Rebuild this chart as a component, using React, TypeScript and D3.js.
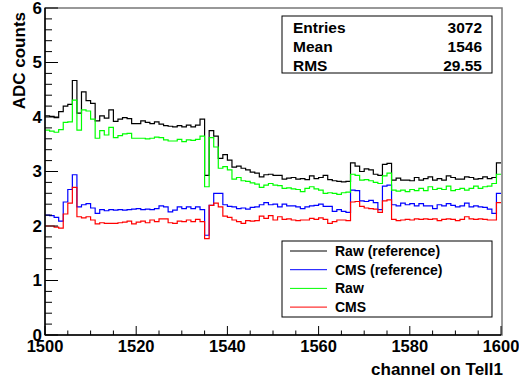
import React from "react";
import * as d3 from "d3";

// one value per channel, 1500..1599
const channels = d3.range(1500, 1600);

const rawRef = [
  4.02, 4.01, 3.99, 4.1, 4.2, 4.23, 4.67, 4.07, 4.46, 4.3,
  4.25, 3.93, 4.02, 3.98, 4.13, 3.92, 3.96, 3.99, 3.97, 3.88,
  3.88, 3.93, 3.9, 3.88, 3.91, 3.87, 3.84, 3.83, 3.82, 3.84,
  3.82, 3.85, 3.82, 3.85, 3.96, 2.93, 3.75, 3.65, 3.24, 3.31,
  3.21, 3.08, 3.1, 3.06, 3.03, 2.99, 2.97, 2.9, 2.94, 2.95,
  2.93, 2.93, 2.86, 2.88, 2.89, 2.86, 2.87, 2.85, 2.92, 2.87,
  2.89, 2.93, 2.85, 2.83, 2.82, 2.81, 2.82, 3.16, 3.1, 3.0,
  3.05, 3.03, 2.95, 2.93, 3.13, 3.15, 2.84, 2.88, 2.84, 2.84,
  2.83, 2.89, 2.84, 2.87, 2.9, 2.84, 2.87, 2.84, 2.92, 2.89,
  2.86, 2.86, 2.9, 2.89, 2.86, 2.87, 2.9, 2.87, 2.89, 3.16,
];

const cmsRef = [
  2.2, 2.19, 2.16, 2.09, 2.44, 2.67, 2.94, 2.35, 2.39, 2.41,
  2.33, 2.23, 2.3, 2.28, 2.3, 2.29, 2.3, 2.29, 2.3, 2.31,
  2.32, 2.3, 2.31, 2.3, 2.32, 2.37, 2.35, 2.26, 2.29, 2.35,
  2.32, 2.35, 2.32, 2.35, 2.3, 1.83, 2.38, 2.6, 2.6, 2.39,
  2.36, 2.35, 2.32, 2.33, 2.31, 2.34, 2.35, 2.39, 2.43, 2.39,
  2.4, 2.35, 2.4, 2.37, 2.37, 2.35, 2.32, 2.35, 2.37, 2.38,
  2.4, 2.36, 2.36, 2.27, 2.3, 2.27, 2.25, 2.66, 2.65, 2.46,
  2.45, 2.47, 2.43, 2.3, 2.73, 2.75, 2.39, 2.37, 2.42, 2.39,
  2.41, 2.37, 2.41, 2.37, 2.37, 2.32, 2.39, 2.37, 2.41, 2.38,
  2.35, 2.37, 2.42, 2.35, 2.37, 2.35, 2.34, 2.31, 2.23, 2.6,
];

const raw = [
  3.76, 3.74, 3.72, 3.77, 3.9, 3.91, 4.31, 3.76, 4.13, 4.11,
  3.96, 3.61, 3.75, 3.67, 3.81, 3.62, 3.66, 3.69, 3.7, 3.61,
  3.61, 3.61, 3.6, 3.61, 3.63, 3.62, 3.58, 3.56, 3.56, 3.59,
  3.55, 3.58, 3.57, 3.59, 3.65, 2.72, 3.62, 3.45, 3.06, 3.09,
  3.03, 2.86, 2.89, 2.83, 2.82, 2.79, 2.77, 2.71, 2.75, 2.78,
  2.75, 2.74, 2.69, 2.7, 2.68, 2.67, 2.63, 2.69, 2.72, 2.68,
  2.66, 2.6, 2.61, 2.6, 2.58, 2.61, 2.62, 2.95, 2.93, 2.84,
  2.85, 2.83, 2.8, 2.78, 2.92, 2.97, 2.66, 2.64, 2.66, 2.63,
  2.67, 2.65, 2.69, 2.65, 2.72, 2.67, 2.69, 2.67, 2.73, 2.65,
  2.67, 2.69, 2.66, 2.69, 2.73, 2.69, 2.72, 2.73, 2.78, 2.95,
];

const cms = [
  2.0, 2.0, 1.98, 1.96, 2.22, 2.42, 2.71, 2.17, 2.15, 2.17,
  2.11, 2.04, 2.06, 2.05, 2.05, 2.05, 2.06, 2.07, 2.09, 2.04,
  2.07, 2.09, 2.06, 2.11, 2.08, 2.13, 2.13, 2.06, 2.05, 2.09,
  2.08, 2.11, 2.08, 2.12, 2.08, 1.77, 2.38, 2.42, 2.35, 2.18,
  2.16, 2.11, 2.08, 2.05, 2.1, 2.09, 2.1, 2.18, 2.14, 2.19,
  2.11, 2.17, 2.12, 2.13, 2.11, 2.1, 2.11, 2.11, 2.14, 2.12,
  2.15, 2.12, 2.05, 2.08, 2.11, 2.11, 2.1, 2.44, 2.45, 2.36,
  2.33, 2.32, 2.31, 2.25, 2.46, 2.48, 2.12, 2.1, 2.11, 2.12,
  2.11, 2.13, 2.12, 2.13, 2.12, 2.13, 2.1, 2.12, 2.13, 2.12,
  2.1, 2.12, 2.17, 2.13, 2.12, 2.13, 2.12, 2.11, 2.11, 2.43,
];

const seriesLabels = ["Raw (reference)", "CMS (reference)", "Raw", "CMS"];
const seriesColors = ["#000000", "#0000ff", "#00ff00", "#ff0000"];
const seriesValues = [rawRef, cmsRef, raw, cms];

const statNames = ["Entries", "Mean", "RMS"];
const statValues = ["3072", "1546", "29.55"];

const xTickLabels = [1500, 1520, 1540, 1560, 1580, 1600];
const yTickLabels = [0, 1, 2, 3, 4, 5, 6];

const W = 519;
const H = 378;
const FONT = "'Liberation Sans', Arial, Helvetica, sans-serif";

export default function App() {
  const margin = { left: 45, right: 18, top: 8, bottom: 43 };
  const x = d3.scaleLinear().domain([1500, 1600]).range([margin.left, W - margin.right]);
  const y = d3.scaleLinear().domain([0, 6]).range([H - margin.bottom, margin.top]);
  const [x0, x1] = x.range();
  const [y0, y1] = y.range();

  const line = d3
    .line<[number, number]>()
    .x((d) => x(d[0]))
    .y((d) => y(d[1]))
    .curve(d3.curveStepAfter);

  const paths = seriesValues.map((vals) => {
    const pts: [number, number][] = channels.map((c, i) => [c, vals[i]]);
    pts.push([1600, vals[vals.length - 1]]);
    return line(pts) ?? "";
  });

  const yMinor = d3.range(0, 31).map((i) => i * 0.2);
  const xMinor = d3.range(1500, 1601, 5);

  return (
    <svg
      width={W}
      height={H}
      style={{ position: "absolute", left: 0, top: 0, background: "#fff" }}
      fontFamily={FONT}
      fontWeight="bold"
    >
      <rect x={0} y={0} width={W} height={H} fill="#fff" />

      {/* frame */}
      <rect x={x0} y={y1} width={x1 - x0 + 1} height={y0 - y1} fill="none" stroke="#777" strokeWidth={1.5} />

      {/* histograms */}
      {paths.map((d, i) => (
        <path key={i} d={d} fill="none" stroke={seriesColors[i]} strokeWidth={1.2} />
      ))}

      {/* y axis */}
      <line x1={x0} x2={x0} y1={y0} y2={y1} stroke="#000" strokeWidth={1.5} />
      {yMinor.map((v, i) => (
        <line
          key={i}
          x1={x0}
          x2={x0 + (i % 5 === 0 ? 13 : 7)}
          y1={y(v)}
          y2={y(v)}
          stroke="#000"
          strokeWidth={1}
        />
      ))}
      {yTickLabels.map((v) => (
        <text key={v} x={x0 - 3} y={y(v)} dy="0.35em" textAnchor="end" fontSize={17}>
          {v}
        </text>
      ))}

      {/* x axis */}
      <line x1={x0} x2={x1} y1={y0} y2={y0} stroke="#000" strokeWidth={1.5} />
      {xMinor.map((c) => (
        <line
          key={c}
          x1={x(c)}
          x2={x(c)}
          y1={y0}
          y2={y0 - (c % 20 === 0 ? 9 : 4.5)}
          stroke="#000"
          strokeWidth={1}
        />
      ))}
      {xTickLabels.map((c) => (
        <text key={c} x={x(c)} y={352} textAnchor="middle" fontSize={16.5}>
          {c}
        </text>
      ))}

      {/* axis titles */}
      <text x={x1 + 2} y={375} textAnchor="end" fontSize={17}>
        channel on Tell1
      </text>
      <text transform="translate(25,12) rotate(-90)" textAnchor="end" fontSize={17}>
        ADC counts
      </text>

      {/* stats box */}
      <rect x={282} y={16} width={210} height={57} fill="#fff" stroke="#000" strokeWidth={1} />
      {statNames.map((n, i) => (
        <g key={n}>
          <text x={293} y={33 + i * 19} fontSize={15.5}>
            {n}
          </text>
          <text x={482} y={33 + i * 19} textAnchor="end" fontSize={15.5}>
            {statValues[i]}
          </text>
        </g>
      ))}

      {/* legend */}
      <rect x={282} y={241} width={210} height={76} fill="#fff" stroke="#000" strokeWidth={1} />
      {seriesLabels.map((lab, i) => {
        const cy = 251 + i * 18.7;
        return (
          <g key={lab}>
            <line x1={290} x2={327} y1={cy} y2={cy} stroke={seriesColors[i]} strokeWidth={1} />
            <text x={335} y={cy} dy="0.36em" fontSize={14}>
              {lab}
            </text>
          </g>
        );
      })}
    </svg>
  );
}
